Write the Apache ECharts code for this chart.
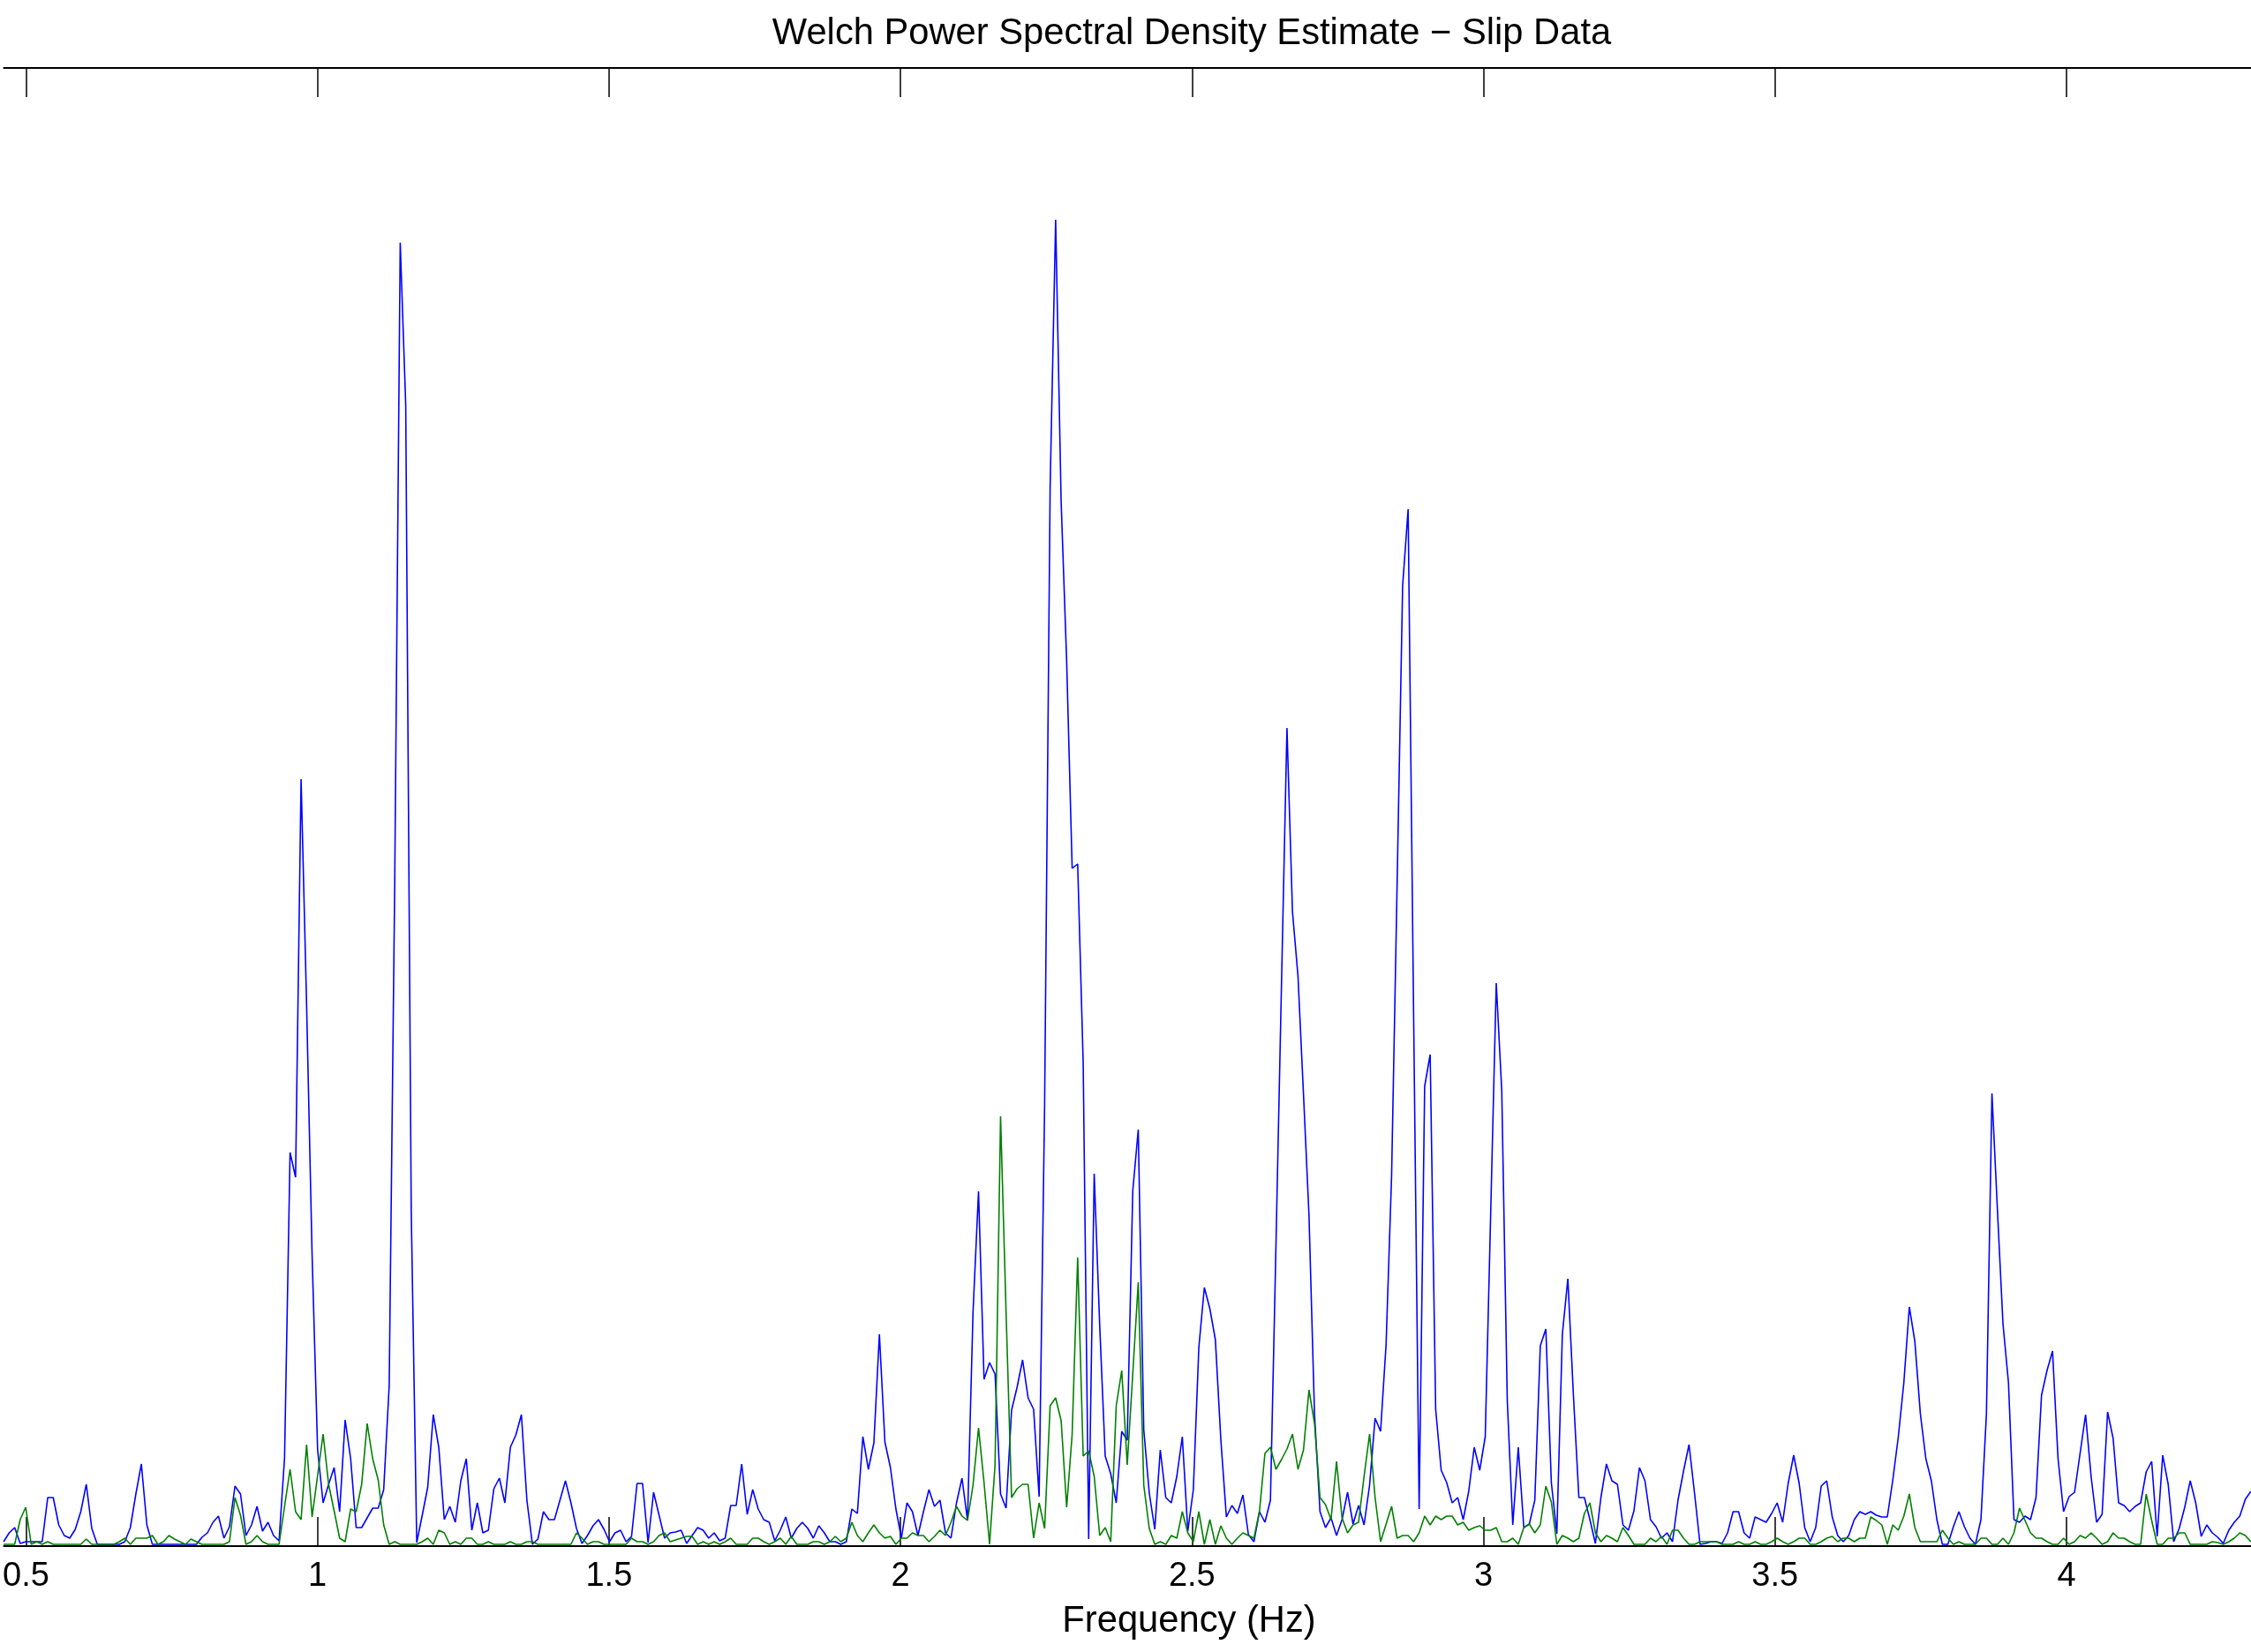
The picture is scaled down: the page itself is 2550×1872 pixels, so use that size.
<!DOCTYPE html>
<html><head><meta charset="utf-8">
<script src="https://cdn.jsdelivr.net/npm/echarts@6/dist/echarts.min.js"></script>
<style>html,body{margin:0;padding:0;background:#fff;}#c{width:2550px;height:1872px;}</style>
</head><body><div id="c"></div>
<script>
// Frequency grid of the Welch estimate (Hz)
const startFreq = 0.46176;
const freqStep = 0.009447;
// visible frequency window of the axes (Hz)
const xMin = 0.462213;
const xMax = 4.31645;
const xTicks = [0.5, 1, 1.5, 2, 2.5, 3, 3.5, 4];
const titleText = 'Welch Power Spectral Density Estimate \u2212 Slip Data';
const xLabelText = 'Frequency (Hz)';
// PSD values (arbitrary units), blue series
const psdBlue = [
5,15,21,3,5,5,5,5,55,55,24,12,9,19,39,70,20,2,2,2,
2,2,5,21,59,93,24,2,2,2,2,2,2,2,2,2,10,15,27,34,
9,22,68,59,12,24,45,17,27,12,6,100,446,418,869,614,330,109,49,70,
89,39,143,99,21,21,32,43,43,64,182,750,1477,1293,380,4,35,67,149,112,
30,45,27,74,99,18,49,15,18,65,77,49,112,126,149,52,2,8,39,30,
30,52,74,49,20,3,12,23,30,19,5,15,18,5,11,71,71,4,61,35,
9,15,16,18,3,12,21,18,9,15,6,9,46,46,93,36,64,42,30,27,
6,18,33,9,20,27,20,9,23,15,5,5,2,5,42,37,124,87,117,240,
118,89,42,9,49,39,12,39,64,45,52,15,9,49,77,29,265,402,189,208,
195,59,43,154,180,211,168,155,56,500,1200,1503,1183,1003,768,773,548,8,422,250,
102,82,49,130,120,402,472,132,60,19,109,55,49,79,124,17,64,225,293,269,
234,120,33,46,37,58,13,5,39,27,52,340,635,927,719,646,512,375,150,39,
21,32,12,30,61,25,46,24,69,145,130,229,420,750,1088,1175,600,42,521,557,
155,86,72,49,55,30,62,112,86,124,380,638,516,165,24,112,21,25,52,227,
246,72,14,240,303,172,55,55,30,3,55,93,74,70,24,18,40,89,74,30,
22,9,15,5,52,85,115,60,2,3,5,5,3,15,39,39,15,9,33,30,
27,37,49,27,71,103,71,21,5,21,68,74,33,12,5,12,30,39,36,39,
35,33,33,75,124,185,271,232,150,99,74,30,2,2,22,39,22,9,2,30,
150,513,380,252,185,30,27,34,30,55,171,199,221,99,39,56,61,105,149,79,
27,36,152,122,49,46,39,45,49,84,96,11,103,70,5,20,44,74,49,11,
24,15,10,3,18,27,34,53,62
];
// PSD values (arbitrary units), green series
const psdGreen = [
2,2,2,30,44,2,5,2,5,2,2,2,2,2,2,8,2,2,2,2,
2,5,9,2,9,9,9,12,2,5,12,8,5,2,8,5,2,2,2,2,
2,5,55,35,2,5,12,5,2,2,2,45,87,39,30,115,33,80,127,70,
40,9,5,42,39,70,139,99,75,24,2,5,2,2,2,2,5,9,2,18,
15,2,5,2,9,9,2,2,5,2,2,2,5,2,2,5,5,2,2,2,
2,2,2,2,15,9,2,5,5,2,2,2,2,2,9,5,5,2,5,12,
15,5,7,9,11,11,2,5,2,5,2,5,9,2,2,2,9,9,5,2,
5,9,2,11,2,2,2,5,5,2,5,11,5,9,27,12,5,15,24,15,
9,11,2,9,9,15,12,12,5,11,18,12,27,45,34,29,69,134,72,2,
92,487,265,55,65,70,70,9,49,20,159,168,142,44,127,327,102,108,79,12,
21,5,159,199,92,195,299,69,20,2,5,2,12,9,39,15,5,39,2,30,
2,23,9,2,9,15,12,9,39,105,112,87,98,110,127,87,109,177,139,55,
47,30,96,32,15,24,27,79,127,55,5,25,45,9,12,12,5,15,34,24,
34,30,34,34,24,27,18,21,23,18,18,21,5,5,9,2,21,25,15,24,
68,50,2,12,9,5,9,37,49,15,5,12,9,5,21,12,2,2,2,9,
5,11,2,18,18,9,2,2,5,5,5,5,2,2,2,5,2,2,5,2,
2,5,9,5,2,5,9,9,2,2,5,9,11,5,9,9,5,9,9,33,
29,24,2,24,18,34,59,21,5,5,5,5,18,9,2,5,2,2,2,9,
9,2,2,9,2,15,43,29,15,9,9,5,2,2,9,2,5,12,9,15,
9,2,5,15,9,9,5,2,2,59,29,2,2,9,9,15,15,2,2,2,
2,5,4,2,5,9,15,12,5
];
const yMax = 1675;

const toPairs = arr => arr.map((v, i) => [startFreq + i * freqStep, v]);

const chart = echarts.init(document.getElementById('c'), null, {renderer: 'canvas'});
const FONT = '"Liberation Sans", Arial, Helvetica, sans-serif';
const axisCommon = {
  type: 'value', min: xMin, max: xMax,
  axisLine: {show: true, onZero: false, lineStyle: {color: '#000', width: 2}},
  axisTick: {show: true, inside: true, length: 33, customValues: xTicks, lineStyle: {color: '#000', width: 1.5}},
  splitLine: {show: false}
};
chart.setOption({
  animation: false,
  backgroundColor: '#fff',
  grid: {left: 0, right: 0, top: 77, height: 1675, containLabel: false},
  xAxis: [
    Object.assign({}, axisCommon, {position: 'bottom',
      axisLabel: {show: true, customValues: xTicks, color: '#000', fontSize: 38, fontFamily: FONT, margin: 16,
        formatter: v => String(+v.toFixed(2))}}),
    Object.assign({}, axisCommon, {position: 'top', axisLabel: {show: false}})
  ],
  yAxis: {type: 'value', min: 0, max: yMax, show: false},
  series: [
    {type: 'line', data: toPairs(psdBlue), showSymbol: false, symbol: 'none',
     lineStyle: {color: '#0000ff', width: 1.6}, itemStyle: {color: '#0000ff'}, z: 3},
    {type: 'line', data: toPairs(psdGreen), showSymbol: false, symbol: 'none',
     lineStyle: {color: '#008000', width: 1.6}, itemStyle: {color: '#008000'}, z: 4}
  ],
  graphic: [
    {type: 'text', x: 1350, y: 39, style: {text: titleText, font: '41.7px ' + FONT, fill: '#000', align: 'center', verticalAlign: 'middle'}},
    {type: 'text', x: 1347, y: 1838, style: {text: xLabelText, font: '41.7px ' + FONT, fill: '#000', align: 'center', verticalAlign: 'middle'}}
  ]
});
</script></body></html>
